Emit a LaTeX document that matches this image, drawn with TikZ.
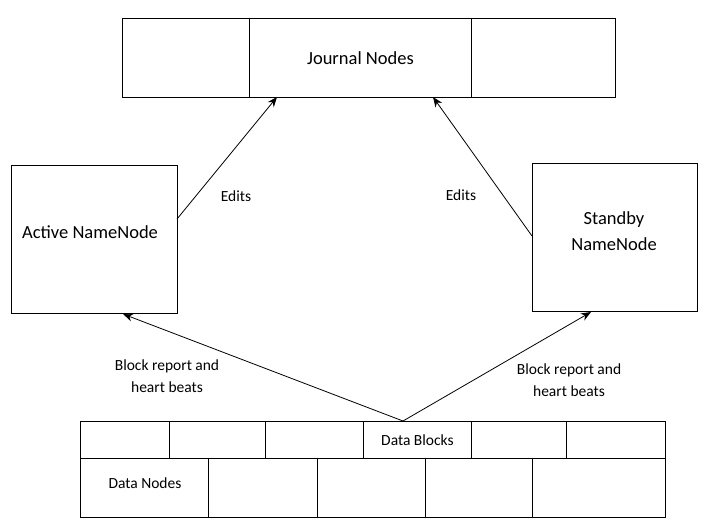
\documentclass[tikz,border=0pt]{standalone}
\usepackage{fontspec}
\setmainfont{Carlito}
\usetikzlibrary{arrows.meta}

\tikzset{
  cell/.style={draw, line width=0.9pt, inner sep=0pt, anchor=north west},
  bigtext/.style={font=\fontsize{18.5}{26}\selectfont, align=center},
  smalltext/.style={font=\fontsize{15.5}{22}\selectfont, align=center},
  flow/.style={line width=0.8pt, -{Stealth[length=10pt, width=8pt]}}
}

\begin{document}
\begin{tikzpicture}[x=1pt, y=-1pt]
  \useasboundingbox (0,0) rectangle (709,528);

  % -- Journal nodes --
  \node[cell, minimum width=127, minimum height=79] (jn1) at (122,18) {};
  \node[cell, minimum width=222, minimum height=79, bigtext] (jn2) at (249,18) {Journal Nodes};
  \node[cell, minimum width=144, minimum height=79] (jn3) at (471,18) {};

  % -- NameNodes --
  \node[cell, minimum width=166, minimum height=148] (active) at (11,165) {};
  \node[bigtext] (activetxt) at (90,232) {Active NameNode};
  \node[cell, minimum width=165, minimum height=148] (standby) at (532,163) {};
  \node[bigtext] (standbytxt) at (614,231) {Standby\\NameNode};

  % -- Data blocks --
  \node[cell, minimum width=89, minimum height=37] (db1) at (80,421) {};
  \node[cell, minimum width=96, minimum height=37] (db2) at (169,421) {};
  \node[cell, minimum width=98, minimum height=37] (db3) at (265,421) {};
  \node[cell, minimum width=108, minimum height=37, smalltext] (db4) at (363,421) {Data Blocks};
  \node[cell, minimum width=95, minimum height=37] (db5) at (471,421) {};
  \node[cell, minimum width=99, minimum height=37] (db6) at (566,421) {};

  % -- Data nodes --
  \node[cell, minimum width=128, minimum height=59] (dn1) at (80,458) {};
  \node[smalltext] (dntxt) at (145,483) {Data Nodes};
  \node[cell, minimum width=109, minimum height=59] (dn2) at (208,458) {};
  \node[cell, minimum width=108, minimum height=59] (dn3) at (317,458) {};
  \node[cell, minimum width=107, minimum height=59] (dn4) at (425,458) {};
  \node[cell, minimum width=133, minimum height=59] (dn5) at (532,458) {};

  % -- Connector ends --
  \coordinate (report) at (403,421);
  \coordinate (activein) at (123,314);
  \coordinate (standbyin) at (591,312);
  \coordinate (activeout) at (177,219);
  \coordinate (standbyout) at (532,236);
  \coordinate (jnleft) at (277,97);
  \coordinate (jnright) at (433,97);

  % -- Edits --
  \draw[flow] (activeout) -- (jnleft);
  \draw[flow] (standbyout) -- (jnright);
  \node[smalltext] (editsl) at (236,196) {Edits};
  \node[smalltext] (editsr) at (461,195) {Edits};

  % -- Block reports --
  \draw[flow] (report) -- (activein);
  \draw[flow] (report) -- (standbyin);
  \node[smalltext] (reportl) at (167,376) {Block report and\\heart beats};
  \node[smalltext] (reportr) at (569,380) {Block report and\\heart beats};

\end{tikzpicture}
\end{document}
